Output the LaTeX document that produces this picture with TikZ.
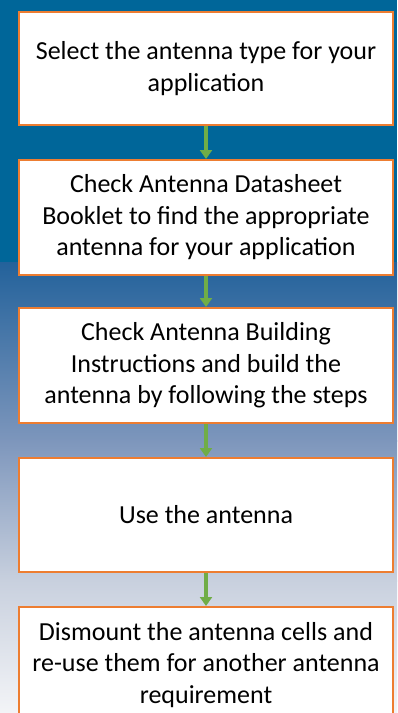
\documentclass[tikz,border=0pt]{standalone}
\usepackage{fontspec}
\setmainfont{Carlito}
\usetikzlibrary{arrows.meta}

\definecolor{bgblue}{RGB}{0,102,153}
\definecolor{bgsteel}{RGB}{35,98,155}
\definecolor{bgmid}{RGB}{125,150,188}
\definecolor{bglight}{RGB}{200,208,222}
\definecolor{bgpale}{RGB}{243,244,247}
\definecolor{boxorange}{RGB}{237,125,49}
\definecolor{arrowgreen}{RGB}{112,173,71}

\tikzset{
  stepbox/.style={draw=boxorange, line width=2pt, fill=white, minimum width=374pt,
    minimum height=113pt, inner sep=0pt, align=center,
    font=\fontsize{26}{31.5}\selectfont},
  flowarrow/.style={-{Triangle[width=12pt,length=9pt]}, draw=arrowgreen, line width=3.2pt}
}

\begin{document}
\begin{tikzpicture}[x=1pt,y=-1pt]
			\useasboundingbox (0,0) rectangle (397,713);
			\clip (0,0) rectangle (397,713);
			
			% background
			\fill[bgblue] (0,0) rectangle (397,263);
			\shade[top color=bgsteel, bottom color=bgmid] (0,262) rectangle (397,441);
			\shade[top color=bgmid, bottom color=bglight] (0,440) rectangle (397,581);
			\shade[top color=bglight, bottom color=bgpale] (0,580) rectangle (397,713);
			
			\node[stepbox] (A) at (206,68.5)  {Select the antenna type for your\\application};
			\node[stepbox, minimum height=115pt] (B) at (206,217.5) {Check Antenna Datasheet\\Booklet to find the appropriate\\antenna for your application};
			\node[stepbox, minimum height=115pt] (C) at (206,365.5) {Check Antenna Building\\Instructions and build the\\antenna by following the steps};
			\node[stepbox, minimum height=114pt] (D) at (206,515) {Use the antenna};
			\node[stepbox, minimum height=116pt] (E) at (206,665) {Dismount the antenna cells and\\re-use them for another antenna\\requirement};
			
			\draw[flowarrow] (A) to (B);
			\draw[flowarrow] (B) to (C);
			\draw[flowarrow] (C) to (D);
			\draw[flowarrow] (D) to (E);
\end{tikzpicture}
\end{document}
